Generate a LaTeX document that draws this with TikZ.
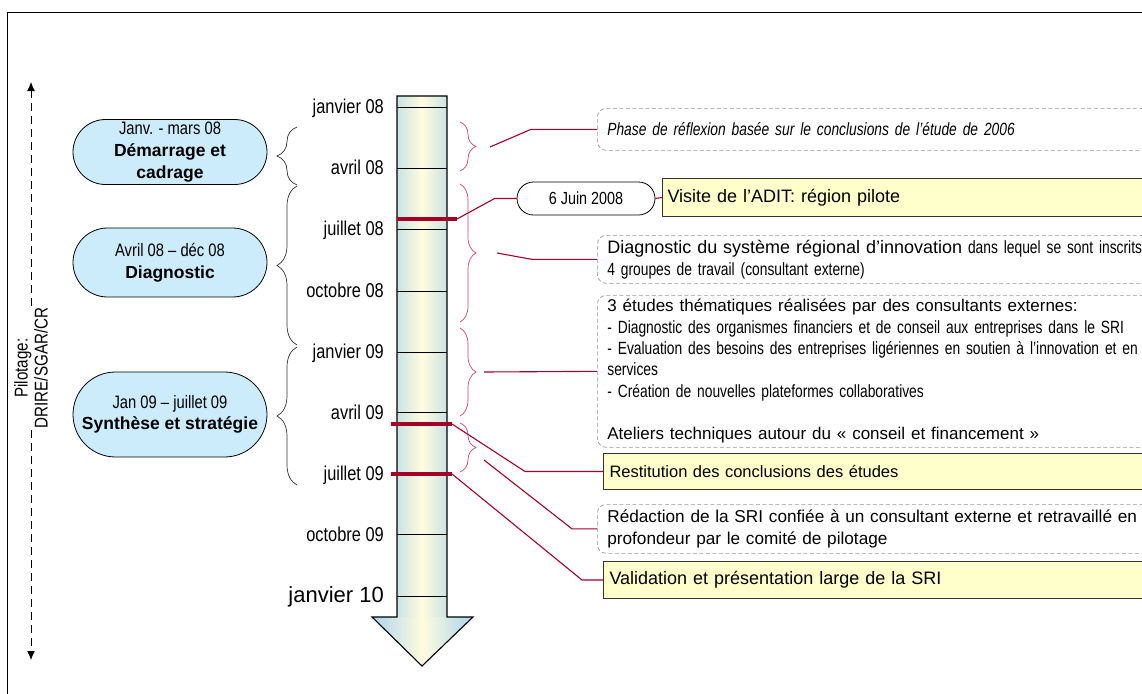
\documentclass[tikz,border=0pt]{standalone}
\usepackage{fontspec}
\setmainfont{Liberation Sans}
\newfontfamily\narrowfont[FakeStretch=0.82]{Liberation Sans}
\newfontfamily\slimfont[FakeStretch=0.78]{Liberation Sans}
\usetikzlibrary{arrows.meta,shapes.misc,decorations.pathreplacing}

\definecolor{pillblue}{RGB}{204,236,252}
\definecolor{noteyellow}{RGB}{255,255,204}
\definecolor{linkred}{RGB}{165,0,40}
\definecolor{bracered}{RGB}{200,75,105}
\definecolor{boxgray}{RGB}{150,150,150}
\definecolor{shaftedge}{RGB}{202,227,228}
\definecolor{shaftmid}{RGB}{255,252,222}
\definecolor{headedge}{RGB}{172,212,238}

\begin{document}
\begin{tikzpicture}[x=1pt,y=-1pt,
  phasepill/.style={rounded rectangle, draw=black, line width=0.8pt, fill=pillblue,
    minimum width=194pt, inner sep=0pt, align=center, font=\fontsize{17.5}{21.5}\selectfont},
  datelbl/.style={anchor=base east, inner sep=0pt, font=\narrowfont\fontsize{20}{22}\selectfont},
  tickline/.style={line width=0.9pt},
  graybrace/.style={decorate, decoration={brace, amplitude=20pt}, draw=black!80, line width=0.7pt},
  redbrace/.style={decorate, decoration={brace, amplitude=16pt}, draw=bracered, line width=0.7pt},
  link/.style={draw=linkred, line width=1.1pt},
  bar/.style={draw=linkred, line width=4pt},
  notebox/.style={draw=boxgray, dash pattern=on 4pt off 2.5pt, rounded corners=9pt, line width=0.7pt,
    anchor=north west, text width=600pt, inner xsep=10pt, inner ysep=0pt, align=left,
    font=\slimfont\fontsize{17.7}{22}\selectfont},
  eventbox/.style={draw=black!80, fill=noteyellow, line width=1pt, anchor=north west,
    text width=600pt, inner xsep=6pt, inner ysep=0pt, align=left, font=\fontsize{18}{22}\selectfont},
]
\useasboundingbox (0,0) rectangle (1142,693);
\clip (0,0) rectangle (1142,693);

% outer frame
\draw[line width=1pt] (7,720) -- (7,13) -- (1160,13);

% steering label with its dashed double arrow
\node[rotate=90, align=center, inner sep=2pt, font=\narrowfont\fontsize{18.5}{20}\selectfont]
  (pilot) at (31,368) {Pilotage:\\DRIRE/SGAR/CR};
\coordinate (pilottop) at (31,82);
\coordinate (pilotbot) at (31,660);
\draw[dash pattern=on 8pt off 5pt, line width=1pt, -{Latex[length=9pt,width=8pt]}] (pilot.east) -- (pilottop);
\draw[dash pattern=on 8pt off 5pt, line width=1pt, -{Latex[length=9pt,width=8pt]}] (pilot.west) -- (pilotbot);

% phases
\node[phasepill, minimum height=65pt, font=\fontsize{17.5}{22}\selectfont] (p1) at (170,152)
  {{\narrowfont\fontsize{18}{22}\selectfont Janv. - mars 08}\\ \textbf{Démarrage et}\\ \textbf{cadrage}};
\node[phasepill, minimum height=69pt] (p2) at (170,262.5)
  {{\narrowfont\fontsize{18}{20}\selectfont Avril 08 – déc 08}\\ \textbf{Diagnostic}};
\node[phasepill, minimum height=85pt] (p3) at (170,414.5)
  {{\narrowfont\fontsize{18}{20}\selectfont Jan 09 – juillet 09}\\ \textbf{Synthèse et stratégie}};

% braces grouping the months of each phase
\draw[graybrace] (297,185) -- (297,127);
\draw[graybrace] (297,345) -- (297,186);
\draw[graybrace] (297,485) -- (297,347);

% time arrow
\fill[left color=shaftedge, right color=shaftedge, middle color=shaftmid] (397,96) rectangle (447,617);
\fill[left color=headedge, right color=headedge, middle color=shaftmid] (372,617) -- (473,617) -- (422,666) -- cycle;
\draw[line width=1.1pt, line join=miter]
  (397,96) -- (447,96) -- (447,617) -- (473,617) -- (422,666) -- (372,617) -- (397,617) -- cycle;
\foreach \y in {107,168,229,291,352,412,473.5,534,596}
  \draw[tickline] (397,\y) -- (447,\y);

% month labels
\node[datelbl] (m1) at (384,113.5) {janvier 08};
\node[datelbl] (m2) at (384,174) {avril 08};
\node[datelbl] (m3) at (384,235) {juillet 08};
\node[datelbl] (m4) at (384,297) {octobre 08};
\node[datelbl] (m5) at (384,358) {janvier 09};
\node[datelbl] (m6) at (384,419) {avril 09};
\node[datelbl] (m7) at (384,480) {juillet 09};
\node[datelbl] (m8) at (384,541) {octobre 09};
\node[anchor=base east, inner sep=0pt, font=\fontsize{22}{25}\selectfont] (m9) at (384,602.5) {janvier 10};

% milestone bars
\coordinate (b1w) at (397,219);  \coordinate (b1e) at (457,219);
\coordinate (b2w) at (391,424);  \coordinate (b2e) at (452,424);
\coordinate (b3w) at (391,474);  \coordinate (b3e) at (452,474);
\draw[bar] (b1w) -- (b1e);
\draw[bar] (b2w) -- (b2e);
\draw[bar] (b3w) -- (b3e);

% braces on the right of the arrow
\draw[redbrace] (460,122) -- (460,171);
\draw[redbrace] (460,184) -- (460,322);
\draw[redbrace] (460,328) -- (460,416);
\draw[redbrace] (460,423) -- (460,472);

% notes and events
\node[notebox, minimum height=42pt] (A) at (597,108)
  {\itshape Phase de réflexion basée sur le conclusions de l’étude de 2006};
\node[rounded rectangle, draw=black, line width=0.8pt, fill=white, minimum width=138pt, minimum height=33pt,
  inner sep=0pt, font=\narrowfont\fontsize{17.5}{20}\selectfont] (J) at (586,198.5) {6 Juin 2008};
\node[eventbox, minimum height=38pt, inner xsep=5pt] (B) at (662,178) {Visite de l’ADIT: région pilote};
\node[notebox, minimum height=48pt] (C) at (597,235)
  {{\fontspec{Liberation Sans}\fontsize{18}{22}\selectfont Diagnostic du système régional d’innovation} dans lequel se sont inscrits\\
   4 groupes de travail (consultant externe)};
\node[notebox, minimum height=152pt, font=\slimfont\fontsize{17.7}{21.3}\selectfont] (D) at (597,295)
  {{\fontspec{Liberation Sans}\fontsize{17}{21.3}\selectfont 3 études thématiques réalisées par des consultants externes:}\\
   - Diagnostic des organismes financiers et de conseil aux entreprises dans le SRI\\
   - Evaluation des besoins des entreprises ligériennes en soutien à l’innovation et en\\
   services\\
   - Création de nouvelles plateformes collaboratives\\[21.3pt]
   {\fontspec{Liberation Sans}\fontsize{17}{21.3}\selectfont Ateliers techniques autour du «~conseil et financement~»}};
\node[eventbox, minimum height=36pt, font=\fontsize{16.5}{20}\selectfont] (E) at (603,453) {Restitution des conclusions des études};
\node[notebox, minimum height=49pt, font=\fontsize{17.2}{22}\selectfont] (F) at (597,504)
  {Rédaction de la SRI confiée à un consultant externe et retravaillé en\\ profondeur par le comité de pilotage};
\node[eventbox, minimum height=37pt] (G) at (603,561) {Validation et présentation large de la SRI};

% connectors
\coordinate (s1) at (490,147);
\coordinate (s2) at (497,253);
\coordinate (s3) at (484,372);
\coordinate (s4) at (484,460);
\draw[link] (s1) -- ([xshift=-66pt]A.west) -- (A.west);
\draw[link] (b1e) -- ([xshift=-22pt]J.west) -- (J.west);
\draw[link] (J.east) -- (B.west);
\draw[link] (s2) -- ([xshift=-65pt]C.west) -- (C.west);
\draw[link] (s3) -- (D.west);
\draw[link] (b2e) -- ([xshift=-78pt]E.west) -- (E.west);
\draw[link] (s4) -- ([xshift=-25pt]F.west) -- (F.west);
\draw[link] (b3e) -- ([xshift=-21pt]G.west) -- (G.west);
\end{tikzpicture}
\end{document}
